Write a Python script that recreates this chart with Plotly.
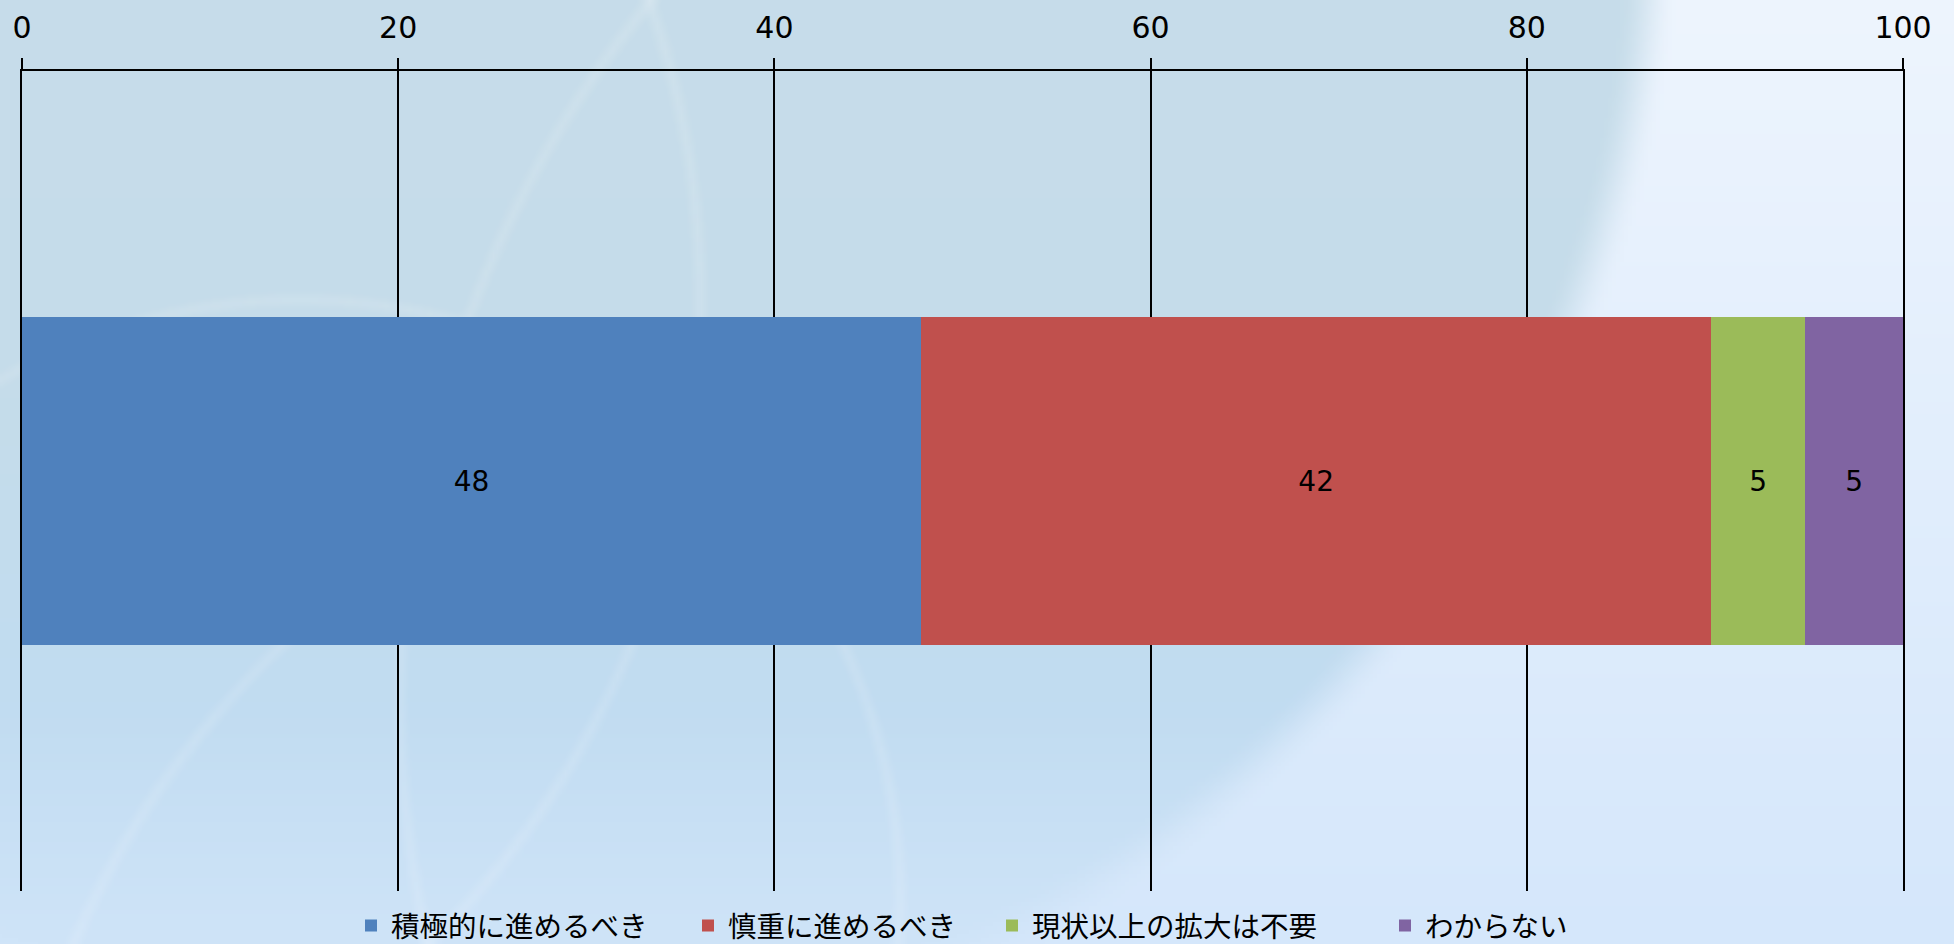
import base64
import struct
import zlib

import numpy as np
import plotly.graph_objects as go

# ---- data ----
categories = ["回答"]
series_names = ["積極的に進めるべき", "慎重に進めるべき", "現状以上の拡大は不要", "わからない"]
series_values = [47.8, 42.0, 5.0, 5.2]
series_labels = ["48", "42", "5", "5"]
series_colors = ["#4f81bd", "#c0504d", "#9bbb59", "#8064a2"]
tick_values = [0, 20, 40, 60, 80, 100]
tick_labels = ["0", "20", "40", "60", "80", "100"]

W, H = 1954, 944
ML, MR, MT, MB = 22, 51, 71, 53
PW, PH = W - ML - MR, H - MT - MB


# ---- decorative background (soft globe-like gradient) ----
def hex_rgb(h):
    h = h.lstrip("#")
    return np.array([int(h[i:i + 2], 16) for i in (0, 2, 4)], dtype=float)


def make_bg(w=489, h=236):
    sx, sy = W / w, H / h
    xs = (np.arange(w) + 0.5) * sx
    ys = (np.arange(h) + 0.5) * sy
    X, Y = np.meshgrid(xs, ys)
    t = (Y / H)[..., None]
    out_top, out_bot = hex_rgb("#eef5fe"), hex_rgb("#d5e7fb")
    outside = out_top * (1 - t) + out_bot * t
    stops_y = np.array([0, 400, 700, 944], dtype=float)
    stops_c = np.array([hex_rgb(c) for c in ["#c7ddea", "#c5dcea", "#c1dcf1", "#cfe4f8"]])
    inside = np.stack([np.interp(Y, stops_y, stops_c[:, k]) for k in range(3)], axis=-1)
    d = np.sqrt((X - 480) ** 2 + (Y + 120) ** 2)
    m = np.clip((1175 - d) / 60 + 0.5, 0, 1)
    m = m * m * (3 - 2 * m)
    img = outside * (1 - m[..., None]) + inside * m[..., None]
    # faint lighter arcs of the globe
    for cx, cy, r in [(300, 900, 600), (900, 1300, 900), (-200, 300, 900), (1500, 700, 1100)]:
        dd = np.abs(np.sqrt((X - cx) ** 2 + (Y - cy) ** 2) - r)
        a = np.clip(1 - dd / 10, 0, 1) * 0.14 * m
        img = img * (1 - a[..., None]) + 255 * a[..., None]
    return np.clip(img, 0, 255).astype(np.uint8)


def png_uri(arr):
    h, w, _ = arr.shape
    raw = b"".join(b"\x00" + arr[y].tobytes() for y in range(h))

    def chunk(tag, data):
        return (struct.pack(">I", len(data)) + tag + data
                + struct.pack(">I", zlib.crc32(tag + data) & 0xFFFFFFFF))

    png = (b"\x89PNG\r\n\x1a\n"
           + chunk(b"IHDR", struct.pack(">IIBBBBB", w, h, 8, 2, 0, 0, 0))
           + chunk(b"IDAT", zlib.compress(raw, 9))
           + chunk(b"IEND", b""))
    return "data:image/png;base64," + base64.b64encode(png).decode()


fig = go.Figure()
legend_ids = ["legend", "legend2", "legend3", "legend4"]
legend_px = [351, 688, 992, 1385]

for name, val, lab, col, lid in zip(series_names, series_values, series_labels,
                                    series_colors, legend_ids):
    fig.add_trace(go.Bar(
        y=categories, x=[val], name=name, orientation="h",
        marker=dict(color=col, line=dict(width=0)),
        text=[lab], textposition="inside", insidetextanchor="middle",
        textangle=0, constraintext="none",
        textfont=dict(size=28, color="black", family="DejaVu Sans, Noto Sans CJK JP"),
        hoverinfo="skip", legend=lid,
    ))

legend_common = dict(
    orientation="h", yanchor="middle", y=-(926 - (MT + PH)) / PH, xanchor="left",
    bgcolor="rgba(0,0,0,0)", borderwidth=0,
    font=dict(size=28.5, color="black", family="Noto Sans CJK JP"),
)
layout_legends = {}
for lid, px in zip(legend_ids, legend_px):
    layout_legends[lid] = dict(legend_common, x=(px - ML) / PW)

fig.update_layout(
    width=W, height=H,
    margin=dict(l=ML, r=MR, t=MT, b=MB, pad=0, autoexpand=False),
    barmode="stack", bargap=0.6,
    paper_bgcolor="#d5e6f5", plot_bgcolor="rgba(0,0,0,0)",
    font=dict(family="DejaVu Sans, Noto Sans CJK JP", color="black"),
    showlegend=True,
    xaxis=dict(
        side="top", range=[0, 100], tickmode="array",
        tickvals=tick_values, ticktext=tick_labels,
        showgrid=True, gridcolor="black", gridwidth=1.5, zeroline=False,
        showline=True, linecolor="black", linewidth=2,
        ticks="outside", ticklen=11, tickwidth=2, tickcolor="black",
        ticklabelstandoff=8,
        tickfont=dict(size=30, color="black", family="DejaVu Sans"),
        fixedrange=True, automargin=False,
    ),
    yaxis=dict(
        range=[-0.5, 0.5], fixedrange=True, automargin=False,
        showline=True, mirror=True, linecolor="black", linewidth=2,
        showticklabels=False, ticks="", showgrid=False, zeroline=False,
        layer="below traces",
    ),
    images=[dict(
        source=png_uri(make_bg()), xref="paper", yref="paper",
        x=-ML / PW, y=1 + MT / PH, sizex=W / PW, sizey=H / PH,
        xanchor="left", yanchor="top", sizing="stretch", layer="below",
    )],
    **layout_legends,
)

fig.write_html("out.html", config={"displayModeBar": False})
